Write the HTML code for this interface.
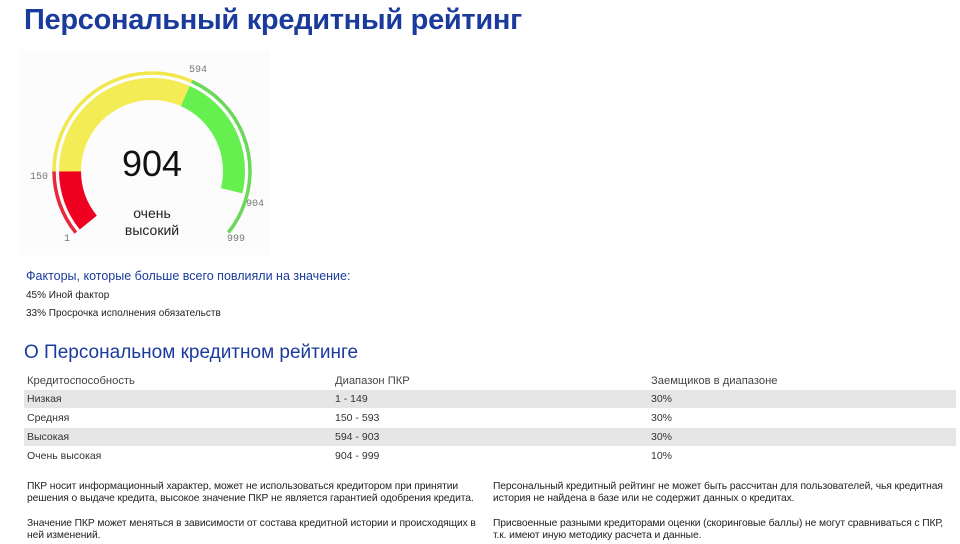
<!DOCTYPE html>
<html><head><meta charset="utf-8"><style>
body{margin:0;width:960px;height:544px;background:#fff;position:relative;overflow:hidden;font-family:"Liberation Sans",Arial,sans-serif;color:#222}
.a{position:absolute;white-space:nowrap}
h1{position:absolute;left:24px;top:4px;margin:0;font-size:29px;font-weight:bold;color:#1a3b9c;letter-spacing:-0.3px}
.row{position:absolute;left:24px;width:932px;height:18px;font-size:10.5px;color:#333}
.row span{position:absolute;top:3px}
.g{background:#e6e6e6}
.p{position:absolute;font-size:10.3px;line-height:12px;color:#222;width:470px;letter-spacing:-0.1px}
</style></head><body>
<h1>Персональный кредитный рейтинг</h1>
<svg class="a" style="left:0;top:50px" width="300" height="205" viewBox="0 50 300 205">
<rect x="20" y="50" width="250" height="205" fill="#fcfcfc"/>
<g transform="translate(152,171)">
<circle r="82" fill="none" stroke="#f00020" stroke-width="22" pathLength="360" stroke-dasharray="39 400" transform="rotate(-219)"/>
<circle r="82" fill="none" stroke="#f4ec55" stroke-width="22" pathLength="360" stroke-dasharray="114.5 400" transform="rotate(-180.3)"/>
<circle r="82" fill="none" stroke="#66f050" stroke-width="22" pathLength="360" stroke-dasharray="80 400" transform="rotate(-66)"/>
<circle r="98" fill="none" stroke="#e8283a" stroke-width="3.5" pathLength="360" stroke-dasharray="39 400" transform="rotate(-219)"/>
<circle r="98" fill="none" stroke="#f2e84c" stroke-width="3.5" pathLength="360" stroke-dasharray="114.5 400" transform="rotate(-180.3)"/>
<circle r="98" fill="none" stroke="#6ad858" stroke-width="3.5" pathLength="360" stroke-dasharray="105 400" transform="rotate(-66)"/>
</g>
<text x="152" y="176" text-anchor="middle" font-family="Liberation Sans" font-size="36" fill="#111">904</text>
<text x="152" y="218" text-anchor="middle" font-family="Liberation Sans" font-size="14" fill="#222">очень</text>
<text x="152" y="235" text-anchor="middle" font-family="Liberation Sans" font-size="14" fill="#222">высокий</text>
<g font-family="Liberation Mono" font-size="10" fill="#777">
<text x="30" y="179">150</text>
<text x="64" y="241">1</text>
<text x="189" y="72">594</text>
<text x="246" y="206">904</text>
<text x="227" y="241">999</text>
</g>
</svg>
<div class="a" style="left:26px;top:269px;font-size:12.5px;color:#1a3b9c">Факторы, которые больше всего повлияли на значение:</div>
<div class="a" style="left:26px;top:290px;font-size:10px;color:#222">45% Иной фактор</div>
<div class="a" style="left:26px;top:308px;font-size:10px;color:#222">33% Просрочка исполнения обязательств</div>
<div class="a" style="left:24px;top:342px;font-size:19px;color:#1a3b9c">О Персональном кредитном рейтинге</div>
<div class="row" style="top:372px;font-size:11.2px;color:#444"><span style="left:3px">Кредитоспособность</span><span style="left:311px">Диапазон ПКР</span><span style="left:627px">Заемщиков в диапазоне</span></div>
<div class="row g" style="top:390px"><span style="left:3px">Низкая</span><span style="left:311px">1 - 149</span><span style="left:627px">30%</span></div>
<div class="row" style="top:409px"><span style="left:3px">Средняя</span><span style="left:311px">150 - 593</span><span style="left:627px">30%</span></div>
<div class="row g" style="top:428px"><span style="left:3px">Высокая</span><span style="left:311px">594 - 903</span><span style="left:627px">30%</span></div>
<div class="row" style="top:447px"><span style="left:3px">Очень высокая</span><span style="left:311px">904 - 999</span><span style="left:627px">10%</span></div>
<div class="p" style="left:27px;top:481px">ПКР носит информационный характер, может не использоваться кредитором при принятии<br>решения о выдаче кредита, высокое значение ПКР не является гарантией одобрения кредита.</div>
<div class="p" style="left:27px;top:518px">Значение ПКР может меняться в зависимости от состава кредитной истории и происходящих в<br>ней изменений.</div>
<div class="p" style="left:493px;top:481px">Персональный кредитный рейтинг не может быть рассчитан для пользователей, чья кредитная<br>история не найдена в базе или не содержит данных о кредитах.</div>
<div class="p" style="left:493px;top:518px">Присвоенные разными кредиторами оценки (скоринговые баллы) не могут сравниваться с ПКР,<br>т.к. имеют иную методику расчета и данные.</div>
</body></html>
